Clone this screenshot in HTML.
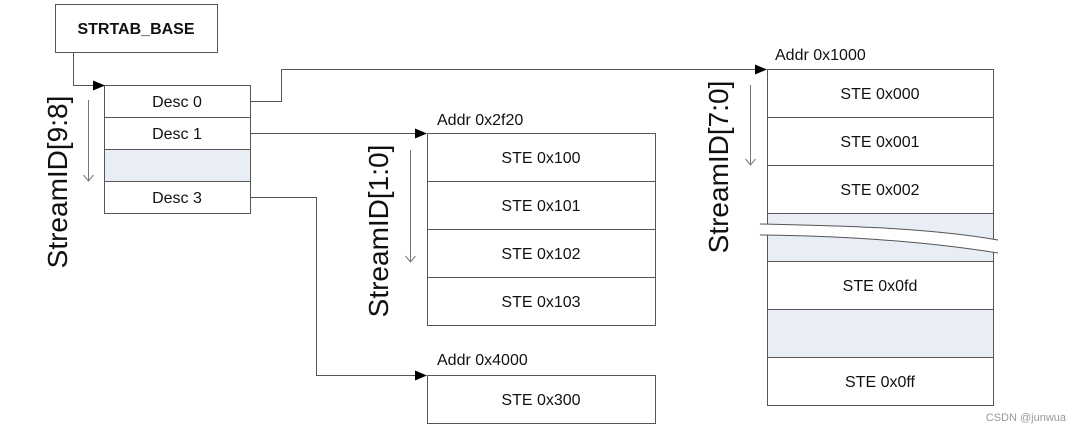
<!DOCTYPE html>
<html><head><meta charset="utf-8"><style>
body{margin:0;background:#fff;}
svg{display:block;font-family:"Liberation Sans",Arial,sans-serif;}
</style></head><body>
<svg width="1080" height="433" viewBox="0 0 1080 433" xmlns="http://www.w3.org/2000/svg">
<defs>
<marker id="a" markerWidth="12" markerHeight="10" refX="11" refY="5" orient="auto" markerUnits="userSpaceOnUse"><path d="M0,0 L12,5 L0,10 z" fill="#000"/></marker>
</defs>
<g stroke="#555" stroke-width="1" fill="#fff">
<rect x="55.5" y="4.5" width="162" height="48"/>
<rect x="104.5" y="85.5" width="146" height="32"/>
<rect x="104.5" y="117.5" width="146" height="32"/>
<rect x="104.5" y="149.5" width="146" height="32" fill="#e8edf6"/>
<rect x="104.5" y="181.5" width="146" height="32"/>
<rect x="427.5" y="133.5" width="228" height="48"/>
<rect x="427.5" y="181.5" width="228" height="48"/>
<rect x="427.5" y="229.5" width="228" height="48"/>
<rect x="427.5" y="277.5" width="228" height="48"/>
<rect x="427.5" y="375.5" width="228" height="48"/>
<rect x="767.5" y="69.5" width="226" height="48"/>
<rect x="767.5" y="117.5" width="226" height="48"/>
<rect x="767.5" y="165.5" width="226" height="48"/>
<rect x="767.5" y="213.5" width="226" height="48" fill="#e8edf6"/>
<rect x="767.5" y="261.5" width="226" height="48"/>
<rect x="767.5" y="309.5" width="226" height="48" fill="#e8edf6"/>
<rect x="767.5" y="357.5" width="226" height="48"/>
</g>
<path d="M760,224 C850,226 930,228 998,240 L998,253 C930,242 850,236 760,235 Z" fill="#fff"/>
<path d="M760,224 C850,226 930,228 998,240 M760,235 C850,236 930,242 998,253" fill="none" stroke="#555"/>
<g stroke="#555" fill="none" stroke-width="1">
<path d="M73.5,52 V85.5 H104" marker-end="url(#a)"/>
<path d="M250,101.5 H281.5 V69.5 H766" marker-end="url(#a)"/>
<path d="M250,133.5 H426" marker-end="url(#a)"/>
<path d="M250,197.5 H316.5 V375.5 H426" marker-end="url(#a)"/>
</g>
<g stroke="#777" stroke-width="1" fill="none">
<path d="M88.5,100 V181 M83.5,175 L88.5,181 L93.5,175"/>
<path d="M410.5,150 V262 M405.5,256 L410.5,262 L415.5,256"/>
<path d="M750.5,85 V165 M745.5,159 L750.5,165 L755.5,159"/>
</g>
<g font-size="16" text-anchor="middle" fill="#111">
<text x="136" y="34" font-weight="bold">STRTAB_BASE</text>
<text x="177" y="107">Desc 0</text>
<text x="177" y="139">Desc 1</text>
<text x="177" y="203">Desc 3</text>
<text x="541" y="163">STE 0x100</text>
<text x="541" y="211">STE 0x101</text>
<text x="541" y="259">STE 0x102</text>
<text x="541" y="307">STE 0x103</text>
<text x="541" y="405">STE 0x300</text>
<text x="880" y="99">STE 0x000</text>
<text x="880" y="147">STE 0x001</text>
<text x="880" y="195">STE 0x002</text>
<text x="880" y="291">STE 0x0fd</text>
<text x="880" y="387">STE 0x0ff</text>
</g>
<g font-size="16" fill="#111">
<text x="437" y="125">Addr 0x2f20</text>
<text x="437" y="365">Addr 0x4000</text>
<text x="775" y="60">Addr 0x1000</text>
</g>
<g font-size="28" fill="#111" text-anchor="middle">
<text transform="translate(67,182) rotate(-90)">StreamID[9:8]</text>
<text transform="translate(388,231) rotate(-90)">StreamID[1:0]</text>
<text transform="translate(728,167) rotate(-90)">StreamID[7:0]</text>
</g>
<text x="1066" y="421" font-size="11" fill="#999" text-anchor="end">CSDN @junwua</text>
</svg>
</body></html>
